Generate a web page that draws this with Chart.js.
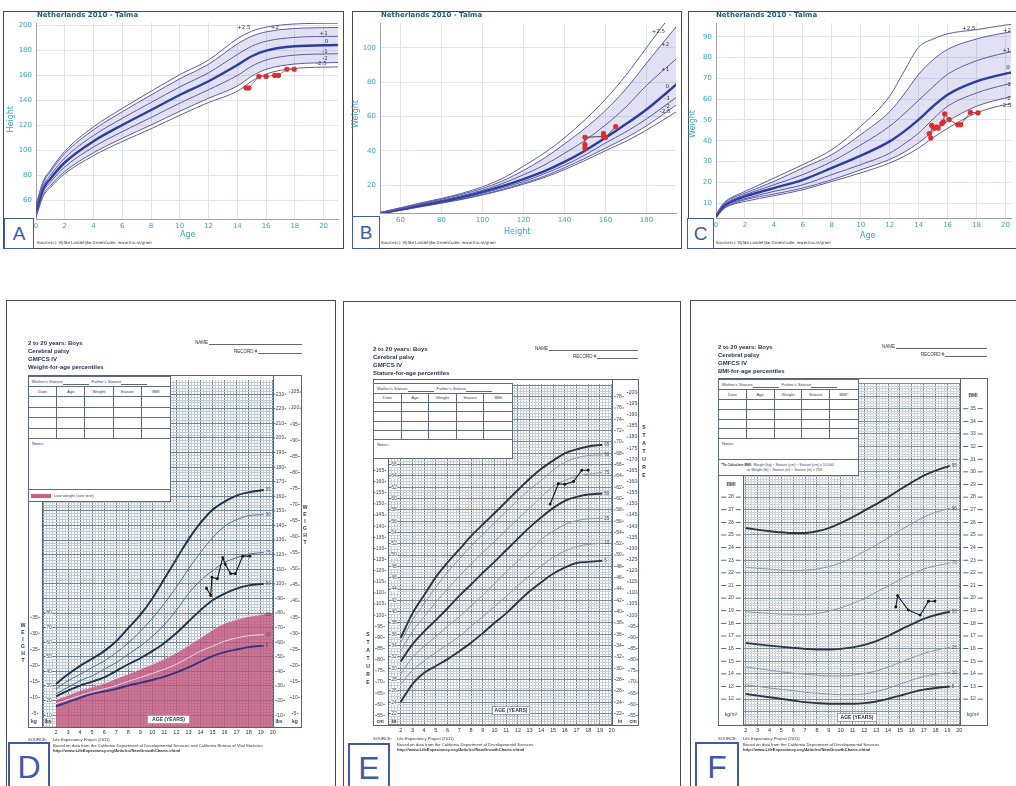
<!DOCTYPE html>
<html>
<head>
<meta charset="utf-8">
<title>Growth charts</title>
<script src="https://cdn.jsdelivr.net/npm/chart.js@4.4.1/dist/chart.umd.min.js"></script>
<style>
  html, body { margin: 0; padding: 0; background: #fff; }
  body { position: relative; width: 1016px; height: 786px; overflow: hidden; font-family: "Liberation Sans", Arial, sans-serif; }
  canvas { position: absolute; }
  .pane { position: absolute; border: 1px solid #4a4a4a; box-sizing: border-box; }
  .letter { position: absolute; box-sizing: border-box; border: 2px solid #3e5aa8; background: #fff; color: #3e5aa8;
            display: flex; align-items: center; justify-content: center; font-family: "Liberation Sans", Arial, sans-serif; }
  .ttl { position: absolute; font: bold 7px "DejaVu Sans"; color: #1b5d7c; white-space: nowrap; }
  .src { position: absolute; font: 4px "DejaVu Sans"; color: #334; white-space: nowrap; }
  .axt { position: absolute; font: 8px "DejaVu Sans"; color: #3ba3c0; }
  .vt { writing-mode: vertical-rl; transform: rotate(180deg); }
  .hd { position: absolute; font: bold 6px/8px "Liberation Sans"; color: #1f2a50; white-space: nowrap; }
  .nm { position: absolute; display: flex; align-items: flex-end; font: 4.5px "Liberation Sans"; color: #333; }
  .nm span { flex: 1; height: 4px; border-bottom: 1px solid #666; margin-left: 1px; }
  .frame { position: absolute; border: 1px solid #56637a; box-sizing: border-box; }
  .vl { position: absolute; width: 1px; background: #56637a; }
  .agebox { position: absolute; background: #fff; font: bold 5px "Liberation Sans"; color: #2a3246; text-align: center;
            border: 1px solid #9aa3b2; box-sizing: border-box; }
  .stk { position: absolute; font: bold 5px "Liberation Sans"; color: #2a3246; text-align: center; width: 8px; }
  .note { position: absolute; font: 4.2px "Liberation Sans"; color: #333; white-space: nowrap; }
  .note b { font-weight: bold; }
  .sheet { position: absolute; background: #fff; border: 1px solid #5d6b80; box-sizing: border-box; display: flex;
           flex-direction: column; font: 4.2px "Liberation Sans"; color: #3a4356; }
  .sheet .ms { height: 9px; padding-left: 3px; border-bottom: 1px solid #5d6b80; display: flex; align-items: center; flex: none; }
  .sheet .ms i { display: inline-block; width: 26px; height: 5px; border-bottom: 1px solid #666; margin-right: 3px; }
  .sheet .grid { display: grid; grid-template-columns: repeat(5, 1fr); flex: none; }
  .sheet .grid div { border-right: 1px solid #5d6b80; border-bottom: 1px solid #5d6b80; text-align: center; }
  .sheet .grid div:nth-child(5n) { border-right: none; }
  .sheet .notes { flex: 1; padding: 2px 3px; }
  .sheet .foot { flex: none; border-top: 1px solid #5d6b80; display: flex; align-items: center; padding-left: 2px; }
</style>
</head>
<body>
<canvas id="cA" width="339" height="235" style="left:4px;top:12px"></canvas>
<canvas id="cB" width="328" height="235" style="left:353px;top:12px"></canvas>
<canvas id="cC" width="327" height="235" style="left:689px;top:12px"></canvas>
<canvas id="cD" width="274" height="365" style="left:28px;top:375px"></canvas>
<canvas id="cE" width="266" height="361" style="left:373px;top:379px"></canvas>
<canvas id="cF" width="270" height="362" style="left:718px;top:378px"></canvas>

<div class="pane" style="left:3px;top:11px;width:341px;height:238px"></div>
<div class="pane" style="left:352px;top:11px;width:330px;height:238px"></div>
<div class="pane" style="left:688px;top:11px;width:332px;height:238px"></div>
<div class="pane" style="left:6px;top:300px;width:330px;height:500px"></div>
<div class="pane" style="left:343px;top:301px;width:338px;height:500px"></div>
<div class="pane" style="left:690px;top:300px;width:340px;height:500px"></div>

<!-- A -->
<div class="ttl" style="left:37px;top:11px">Netherlands 2010 - Talma</div>
<div class="src" style="left:37px;top:240px">Source(s): Vijfde Landelijke Groeistudie, www.tno.nl/groei</div>
<div class="axt" style="left:180px;top:230px">Age</div>
<div class="axt vt" style="left:6px;top:106px">Height</div>
<div class="letter" style="left:4px;top:218px;width:30px;height:31px;font-size:19px;border-width:1.5px">A</div>
<!-- B -->
<div class="ttl" style="left:381px;top:11px">Netherlands 2010 - Talma</div>
<div class="src" style="left:381px;top:240px">Source(s): Vijfde Landelijke Groeistudie, www.tno.nl/groei</div>
<div class="axt" style="left:504px;top:227px">Height</div>
<div class="axt vt" style="left:351px;top:100px">Weight</div>
<div class="letter" style="left:352px;top:216px;width:28px;height:33px;font-size:19px;border-width:1.5px">B</div>
<!-- C -->
<div class="ttl" style="left:716px;top:11px">Netherlands 2010 - Talma</div>
<div class="src" style="left:716px;top:240px">Source(s): Vijfde Landelijke Groeistudie, www.tno.nl/groei</div>
<div class="axt" style="left:860px;top:231px">Age</div>
<div class="axt vt" style="left:688px;top:110px">Weight</div>
<div class="letter" style="left:687px;top:218px;width:27px;height:31px;font-size:19px;border-width:1.5px">C</div>

<!-- D -->
<div class="hd" style="left:28px;top:339px">2 to 20 years: Boys<br>Cerebral palsy<br>GMFCS IV<br>Weight-for-age percentiles</div>
<div class="nm" style="left:195px;top:340px;width:107px">NAME<span></span></div>
<div class="nm" style="left:234px;top:349px;width:68px">RECORD #<span></span></div>
<div class="frame" style="left:28px;top:375px;width:274px;height:353px"></div>
<div class="vl" style="left:42px;top:501px;height:226px"></div>
<div class="vl" style="left:273px;top:375px;height:352px"></div>
<div class="agebox" style="left:147px;top:715px;width:43px;height:9px;line-height:7px">AGE (YEARS)</div>
<div class="stk" style="left:19px;top:622px;line-height:7px">W<br>E<br>I<br>G<br>H<br>T</div>
<div class="stk" style="left:301px;top:504px;line-height:7px">W<br>E<br>I<br>G<br>H<br>T</div>
<div class="note" style="left:28px;top:737px">SOURCE:</div>
<div class="note" style="left:53px;top:737px">Life Expectancy Project (2011)</div>
<div class="note" style="left:53px;top:743px">Based on data from the California Department of Developmental Services and California Bureau of Vital Statistics</div>
<div class="note" style="left:53px;top:748px"><b>http://www.LifeExpectancy.org/Articles/NewGrowthCharts.shtml</b></div>
<div class="letter" style="left:8px;top:742px;width:42px;height:50px;font-size:32px">D</div>

<!-- E -->
<div class="hd" style="left:373px;top:345px">2 to 20 years: Boys<br>Cerebral palsy<br>GMFCS IV<br>Stature-for-age percentiles</div>
<div class="nm" style="left:535px;top:346px;width:103px">NAME<span></span></div>
<div class="nm" style="left:573px;top:354px;width:65px">RECORD #<span></span></div>
<div class="frame" style="left:373px;top:379px;width:266px;height:347px"></div>
<div class="vl" style="left:388px;top:458px;height:267px"></div>
<div class="vl" style="left:612px;top:379px;height:346px"></div>
<div class="agebox" style="left:492px;top:706px;width:38px;height:9px;line-height:7px">AGE (YEARS)</div>
<div class="stk" style="left:364px;top:630px;line-height:8px">S<br>T<br>A<br>T<br>U<br>R<br>E</div>
<div class="stk" style="left:640px;top:423px;line-height:8px">S<br>T<br>A<br>T<br>U<br>R<br>E</div>
<div class="note" style="left:373px;top:736px">SOURCE:</div>
<div class="note" style="left:397px;top:736px">Life Expectancy Project (2011)</div>
<div class="note" style="left:397px;top:742px">Based on data from the California Department of Developmental Services</div>
<div class="note" style="left:397px;top:747px"><b>http://www.LifeExpectancy.org/Articles/NewGrowthCharts.shtml</b></div>
<div class="letter" style="left:348px;top:743px;width:42px;height:50px;font-size:32px">E</div>

<!-- F -->
<div class="hd" style="left:718px;top:343px">2 to 20 years: Boys<br>Cerebral palsy<br>GMFCS IV<br>BMI-for-age percentiles</div>
<div class="nm" style="left:882px;top:344px;width:105px">NAME<span></span></div>
<div class="nm" style="left:921px;top:352px;width:66px">RECORD #<span></span></div>
<div class="frame" style="left:718px;top:378px;width:270px;height:348px"></div>
<div class="vl" style="left:743px;top:475px;height:250px"></div>
<div class="vl" style="left:960px;top:378px;height:347px"></div>
<div class="agebox" style="left:837px;top:713px;width:40px;height:9px;line-height:7px">AGE (YEARS)</div>
<div class="note" style="left:718px;top:736px">SOURCE:</div>
<div class="note" style="left:743px;top:736px">Life Expectancy Project (2011)</div>
<div class="note" style="left:743px;top:742px">Based on data from the California Department of Developmental Services</div>
<div class="note" style="left:743px;top:747px"><b>http://www.LifeExpectancy.org/Articles/NewGrowthCharts.shtml</b></div>
<div class="letter" style="left:695px;top:742px;width:44px;height:50px;font-size:32px">F</div>

<script>
// ---------- A: height for age (TNO 2010), SD lines +2.5 .. -2.5 ----------
var aAge = [0, 0.5, 1, 2, 4, 6, 8, 10, 12, 14, 15, 16, 18, 21];
var aP25 = [56, 75, 84, 99, 118.5, 133.3, 147, 160.3, 172, 189, 195, 198.3, 200.8, 201.5];
var aP20 = [55, 73.8, 82.6, 97.2, 116.2, 130.6, 144, 157, 168.6, 184.8, 191, 194.5, 197.2, 198];
var aP10 = [53, 71.4, 79.8, 93.6, 111.6, 125.3, 138, 150.5, 161.8, 176.4, 183, 187, 190.1, 191];
var aMed = [51, 69, 77, 90, 107, 120, 132, 144, 155, 168, 175, 179.5, 183, 184];
var aM10 = [49, 66.6, 74.2, 86.4, 102.4, 114.7, 126, 137.5, 148.2, 159.6, 167, 172, 175.9, 177];
var aM20 = [47, 64.2, 71.4, 82.8, 97.8, 109.4, 120, 131, 141.4, 151.2, 159, 164.5, 168.8, 170];
var aM25 = [46, 63, 70, 81, 95.5, 106.8, 117, 127.8, 138, 147, 155, 160.8, 165.3, 166.5];
var aKidAge = [14.6, 14.8, 15.5, 16.0, 16.6, 16.85, 17.45, 17.95];
var aKidCm = [149.6, 149.6, 158.8, 158.8, 159.7, 159.7, 164.6, 164.6];
var aAgeTicks = [0, 2, 4, 6, 8, 10, 12, 14, 16, 18, 20];
var aCmTicks = [60, 80, 100, 120, 140, 160, 180, 200];

// ---------- B: weight for height ----------
var bCm = [50, 60, 70, 80, 90, 100, 110, 120, 130, 140, 150, 160, 170, 180, 195];
var bP25 = [4.0, 6.8, 9.6, 12.2, 15.2, 19, 24, 31, 38.5, 47.5, 58, 70, 84, 100, 124];
var bP20 = [3.9, 6.5, 9.2, 11.7, 14.6, 18, 22.5, 28.5, 35.5, 44, 53, 63.5, 76, 91, 113];
var bP10 = [3.7, 6.2, 8.7, 11.1, 13.8, 17, 21, 26, 31.5, 38.5, 46, 55, 65.5, 78, 94];
var bMed = [3.5, 5.8, 8.2, 10.5, 13, 16, 19.5, 23.5, 28, 33.5, 40, 47.5, 55.5, 64, 79];
var bM10 = [3.4, 5.5, 7.8, 10, 12.4, 15.2, 18.5, 22, 26.5, 31.5, 37.5, 44.5, 51, 58.5, 71.5];
var bM20 = [3.3, 5.3, 7.5, 9.6, 11.9, 14.5, 17.5, 21, 25, 30, 35.5, 41.5, 47.5, 54.5, 67];
var bM25 = [3.2, 5.2, 7.3, 9.4, 11.6, 14.2, 17.1, 20.5, 24.3, 29, 34.3, 40, 45.5, 52, 63];
var bKidCm = [150, 150, 150, 159, 159, 160, 165];
var bKidKg = [41.5, 43.5, 47.8, 48.3, 50, 47.8, 54];
var bCmTicks = [60, 80, 100, 120, 140, 160, 180];
var bKgTicks = [20, 40, 60, 80, 100];

// ---------- C: weight for age ----------
var cAge = [0, 0.5, 1, 2, 4, 6, 8, 10, 12, 13, 14, 15, 16, 18, 20, 21];
var cP25 = [4.5, 9.8, 12.4, 15.6, 22, 28.5, 35.7, 47, 61.5, 73.5, 85, 89, 91.5, 93.5, 95.7, 96.5];
var cP20 = [4.3, 9.4, 11.9, 14.8, 20.4, 26.9, 33.3, 43, 54, 62.5, 72, 79, 84, 89, 92, 93];
var cP10 = [3.9, 8.9, 11.2, 14, 18.8, 23.7, 30, 38, 47, 53, 59.5, 66, 72, 78.5, 82.3, 83.5];
var cMed = [3.6, 8.3, 10.5, 13.2, 17.2, 21.2, 26.9, 32.8, 39.7, 44.5, 50.2, 56.6, 62.2, 68.6, 72.3, 73.5];
var cM10 = [3.3, 7.8, 9.8, 12.1, 15.6, 18.8, 23.7, 28.5, 34, 38.5, 43.7, 50.5, 56.6, 63, 67, 68.5];
var cM20 = [3.0, 7.3, 9.2, 11.6, 14.3, 17.2, 21.2, 26, 31, 34.5, 39, 44.5, 49.4, 56.6, 60.6, 62];
var cM25 = [2.9, 7, 8.9, 10.8, 13.5, 16.4, 20.4, 24.5, 29.3, 32.5, 36.5, 41.5, 46, 53.4, 57.4, 58.5];
var cKidAge = [14.73, 14.84, 14.9, 15.1, 15.25, 15.35, 15.6, 15.7, 15.8, 16.1, 16.7, 16.9, 17.57, 18.1];
var cKidKg = [43.4, 41.3, 47.4, 46.1, 46.6, 46.1, 48.2, 49, 52.9, 50.2, 47.7, 47.7, 53.7, 53.4];
var cAgeTicks = [0, 2, 4, 6, 8, 10, 12, 14, 16, 18, 20];
var cKgTicks = [10, 20, 30, 40, 50, 60, 70, 80, 90];

// ---------- D: CP weight for age (lbs) ----------
var dAge = [2, 3, 4, 5, 6, 7, 8, 9, 10, 11, 12, 13, 14, 15, 16, 17, 18, 19.25];
var dP95 = [31.4, 38, 43.8, 48.7, 53.9, 60.7, 69.7, 78.7, 90, 103.5, 117, 130.5, 141.8, 150.8, 156.4, 160.5, 162.7, 164.3];
var dP90 = [28, 33.6, 38, 42.6, 47.2, 52.8, 59.5, 67.4, 76.4, 86.6, 97.8, 110.2, 121.5, 131.6, 139.5, 144, 146.7, 147.4];
var dP75 = [24.6, 29.1, 33.6, 37, 41.5, 46, 51.7, 57.3, 64, 72, 82, 93.3, 102.3, 109, 114.7, 118, 120.4, 121.5];
var dP50 = [22.8, 26.9, 30.3, 33, 35.9, 40.4, 44.9, 49, 53.9, 59.5, 66.3, 74.2, 82, 88.8, 93.3, 96.7, 99, 100];
var dP25 = [20.6, 23.5, 26.9, 29.1, 31.8, 35.2, 38.2, 41.5, 44.9, 48.3, 52.8, 57.7, 62.9, 68.6, 73, 75.3, 77.6, 79.1];
var dP10 = [17.9, 20.6, 23.5, 25.8, 28, 30.3, 33.2, 35.9, 38.6, 41.5, 44.9, 49.4, 53.9, 57.3, 60.7, 62.9, 64.5, 65.2];
var dP5 = [16.1, 19, 21.9, 24.6, 26.2, 28, 30.3, 32.1, 34.1, 36.4, 39.3, 42.7, 46.7, 50.5, 53.2, 55, 56.6, 57.7];
var dLowAge = [2, 4, 6, 8, 10, 12, 14, 16, 18, 20];
var dLowLbs = [20.6, 26.9, 31.8, 38.2, 44.9, 52.8, 62.9, 73, 77.6, 80];
var dKidAge = [14.5, 14.85, 14.95, 15.4, 15.85, 16.05, 16.5, 16.9, 17.5, 18.1];
var dKidLbs = [97, 92, 104.5, 103.5, 118, 113.5, 107, 107, 119, 119];
var dLbsRight = [10, 20, 30, 40, 50, 60, 70, 80, 90, 100, 110, 120, 130, 140, 150, 160, 170, 180, 190, 200, 210, 220, 230];
var dKgRight = [5, 10, 15, 20, 25, 30, 35, 40, 45, 50, 55, 60, 65, 70, 75, 80, 85, 90, 95, 100, 105];
var dLbsLeft = [10, 20, 30, 40, 50, 60, 70, 80];
var dKgLeft = [5, 10, 15, 20, 25, 30, 35];

// ---------- E: CP stature for age (inches) ----------
var eAge = [2, 3, 4, 5, 6, 7, 8, 9, 10, 11, 12, 13, 14, 15, 16, 17, 18, 19.2];
var eP95 = [35.35, 39.7, 42.9, 46.1, 48.7, 51, 53.35, 55.4, 57.4, 59.45, 61.5, 63.5, 65.25, 66.7, 68, 68.7, 69.2, 69.5];
var eP90 = [34.5, 38.5, 41.4, 44.35, 47, 49.3, 51.6, 53.6, 55.7, 57.7, 59.7, 61.6, 63.2, 65, 66.4, 67.2, 67.6, 67.7];
var eP75 = [33, 36.5, 39.1, 41.7, 44, 46.3, 48.4, 50.45, 52.4, 54.4, 56.4, 58.3, 60.3, 62.1, 63.2, 63.9, 64.3, 64.6];
var eP50 = [31.2, 34.2, 36.5, 38.5, 40.6, 42.8, 44.8, 46.85, 48.8, 50.85, 52.9, 54.9, 56.7, 58.3, 59.6, 60.3, 60.7, 60.9];
var eP25 = [29, 31.9, 33.9, 35.6, 37.4, 39.1, 41, 42.9, 44.9, 47, 49, 50.7, 52.8, 54.2, 55.4, 56.1, 56.4, 56.5];
var eP10 = [27.2, 29.6, 31.3, 32.8, 34.2, 35.6, 37.4, 39.1, 40.9, 42.7, 44.6, 46.4, 48.1, 49.6, 50.7, 51.5, 51.9, 52.1];
var eP5 = [24, 27.2, 29.2, 30.4, 31.6, 33, 34.5, 36.2, 38, 39.7, 41.7, 43.6, 45.2, 46.7, 47.8, 48.6, 48.8, 49];
var eKidAge = [14.75, 15.45, 16.0, 16.75, 17.45, 18.0];
var eKidIn = [59, 62.6, 62.5, 63, 65, 65];
var eInRight = [22, 24, 26, 28, 30, 32, 34, 36, 38, 40, 42, 44, 46, 48, 50, 52, 54, 56, 58, 60, 62, 64, 66, 68, 70, 72, 74, 76, 78];
var eCmRight = [55, 60, 65, 70, 75, 80, 85, 90, 95, 100, 105, 110, 115, 120, 125, 130, 135, 140, 145, 150, 155, 160, 165, 170, 175, 180, 185, 190, 195, 200];
var eInLeft = [22, 24, 26, 28, 30, 32, 34, 36, 38, 40, 42, 44, 46, 48, 50, 52, 54, 56, 58, 60, 62, 64, 66];
var eCmLeft = [55, 60, 65, 70, 75, 80, 85, 90, 95, 100, 105, 110, 115, 120, 125, 130, 135, 140, 145, 150, 155, 160, 165];

// ---------- F: CP BMI for age ----------
var fAge = [2, 4, 6, 7, 8, 9, 10, 11, 12, 13, 14, 15, 16, 17, 18, 19.2];
var fP95 = [25.55, 25.3, 25.16, 25.16, 25.3, 25.55, 25.94, 26.41, 26.93, 27.45, 28.0, 28.6, 29.17, 29.7, 30.1, 30.47];
var fP90 = [22.43, 22.3, 22.17, 22.22, 22.3, 22.5, 22.8, 23.2, 23.7, 24.2, 24.77, 25.37, 25.9, 26.41, 26.8, 27.1];
var fP75 = [18.92, 18.79, 18.71, 18.71, 18.79, 18.97, 19.23, 19.57, 19.96, 20.48, 20.95, 21.47, 21.9, 22.3, 22.56, 22.77];
var fP50 = [16.45, 16.24, 16.06, 15.98, 15.93, 15.93, 15.98, 16.1, 16.3, 16.6, 17.0, 17.49, 17.93, 18.35, 18.66, 18.92];
var fP25 = [14.55, 14.29, 14.05, 13.97, 13.9, 13.84, 13.84, 13.9, 14.03, 14.23, 14.55, 14.89, 15.28, 15.61, 15.87, 16.1];
var fP10 = [13.14, 12.88, 12.67, 12.54, 12.47, 12.41, 12.36, 12.36, 12.41, 12.6, 12.85, 13.19, 13.5, 13.79, 13.97, 14.1];
var fP5 = [12.41, 12.15, 11.89, 11.76, 11.68, 11.63, 11.63, 11.63, 11.68, 11.81, 12.02, 12.28, 12.54, 12.75, 12.88, 13.0];
var fKidAge = [14.65, 14.8, 15.7, 16.7, 17.4, 17.95];
var fKidBmi = [19.3, 20.2, 19.05, 18.65, 19.75, 19.75];
var fBmiRight = [12, 13, 14, 15, 16, 17, 18, 19, 20, 21, 22, 23, 24, 25, 26, 27, 28, 29, 30, 31, 32, 33, 34, 35];
var fBmiLeft = [12, 13, 14, 15, 16, 17, 18, 19, 20, 21, 22, 23, 24, 25, 26, 27, 28];

var cdcAgeTicks = [2, 3, 4, 5, 6, 7, 8, 9, 10, 11, 12, 13, 14, 15, 16, 17, 18, 19, 20];
var LB_PER_KG = 2.20462;
var IN_PER_CM = 1 / 2.54;

function xy(xs, ys) {
  return xs.map(function (x, i) { return { x: x, y: ys[i] }; });
}

// small text labels placed at data coordinates, or at the end of tagged curves
var tagsPlugin = {
  id: 'tags',
  afterDatasetsDraw: function (chart, args, o) {
    var ctx = chart.ctx, sx = chart.scales.x, sy = chart.scales.y;
    ctx.save();
    ctx.font = o.font;
    ctx.fillStyle = o.color;
    ctx.textBaseline = 'middle';
    ctx.textAlign = 'center';
    (o.items || []).forEach(function (it) {
      ctx.fillText(it.t, sx.getPixelForValue(it.x), sy.getPixelForValue(it.y));
    });
    if (o.ends) {
      ctx.textAlign = 'left';
      chart.data.datasets.forEach(function (ds) {
        if (!ds.tag) return;
        var p = ds.data[ds.data.length - 1];
        ctx.fillText(ds.tag, sx.getPixelForValue(p.x) + 2, sy.getPixelForValue(p.y));
      });
    }
    ctx.restore();
  }
};

// unit columns at the sides of the paper charts (kg / lbs / cm / in / BMI)
var sidePlugin = {
  id: 'side',
  afterDraw: function (chart, args, o) {
    if (!o.cols) return;
    var ctx = chart.ctx, sy = chart.scales.y;
    ctx.save();
    ctx.textAlign = 'center';
    ctx.textBaseline = 'middle';
    o.cols.forEach(function (col) {
      ctx.font = o.font;
      col.values.forEach(function (v) {
        var y = sy.getPixelForValue(v * col.k);
        var w = ctx.measureText(String(v)).width;
        if (col.bg) {
          ctx.fillStyle = '#fff';
          ctx.fillRect(col.x - w / 2 - 1, y - 2.5, w + 2, 5);
        }
        ctx.fillStyle = o.color;
        ctx.fillText(String(v), col.x, y);
        if (col.dash) {
          ctx.fillRect(col.x - w / 2 - col.gap - col.dash, y - 0.4, col.dash, 0.8);
          ctx.fillRect(col.x + w / 2 + col.gap, y - 0.4, col.dash, 0.8);
        }
      });
    });
    (o.texts || []).forEach(function (t) {
      ctx.font = t.bold ? 'bold ' + o.font : o.font;
      ctx.fillStyle = o.color;
      var y = t.v !== undefined ? sy.getPixelForValue(t.v) : t.py;
      ctx.fillText(t.t, t.x, y);
    });
    ctx.restore();
  }
};

Chart.register(tagsPlugin, sidePlugin);
Chart.defaults.font.family = 'Liberation Sans';

function tnoChart(id, o) {
  var sets = o.lines.map(function (ys, i) {
    return {
      data: xy(o.xs, ys),
      borderColor: i === 3 ? '#2b3ea0' : '#5b5ba6',
      borderWidth: i === 3 ? 2.4 : 1,
      pointRadius: 0,
      cubicInterpolationMode: 'monotone',
      fill: i === 1 ? 5 : false,
      backgroundColor: 'rgba(118,118,200,0.22)'
    };
  });
  sets.push({
    data: xy(o.kidX, o.kidY),
    order: -1,
    borderColor: o.kidLine,
    borderWidth: 1,
    tension: 0,
    fill: false,
    pointRadius: 2.4,
    pointStyle: 'rectRounded',
    pointBackgroundColor: '#e22a2a',
    pointBorderColor: '#e22a2a'
  });
  function tickStyle(pad) {
    return { color: '#3ba3c0', font: { family: 'DejaVu Sans', size: 7 }, padding: pad, autoSkip: false, maxRotation: 0 };
  }
  return new Chart(document.getElementById(id), {
    type: 'line',
    data: { datasets: sets },
    options: {
      responsive: false,
      animation: false,
      devicePixelRatio: 1,
      layout: { padding: { top: 11, left: 0, right: 0, bottom: 0 } },
      plugins: {
        legend: { display: false },
        tooltip: { enabled: false },
        filler: { drawTime: 'beforeDatasetsDraw' },
        tags: { font: '5.5px "DejaVu Sans"', color: '#333', items: o.tags }
      },
      scales: {
        x: {
          type: 'linear', min: o.xmin, max: o.xmax,
          afterBuildTicks: function (s) { s.ticks = o.xt.map(function (v) { return { value: v }; }); },
          afterFit: function (s) { s.height = o.xh; },
          grid: { color: '#e3e3eb', drawTicks: false },
          border: { color: '#a0a0aa' },
          ticks: tickStyle(3)
        },
        y: {
          type: 'linear', min: o.ymin, max: o.ymax,
          afterBuildTicks: function (s) { s.ticks = o.yt.map(function (v) { return { value: v }; }); },
          afterFit: function (s) { s.width = o.yw; },
          grid: { color: '#e3e3eb', drawTicks: false },
          border: { color: '#a0a0aa' },
          ticks: tickStyle(4)
        }
      }
    }
  });
}

function cdcChart(id, o) {
  var sets = o.curves.map(function (c) {
    return {
      data: xy(o.ages, c.ys),
      tag: c.tag,
      borderColor: c.color || (c.heavy ? o.heavy : o.light),
      borderWidth: c.heavy ? 1.9 : 1,
      borderDash: c.dash || [],
      pointRadius: 0,
      cubicInterpolationMode: 'monotone',
      fill: false
    };
  });
  if (o.extra) sets = sets.concat(o.extra);
  sets.push({
    data: xy(o.kidX, o.kidY),
    order: -1,
    borderColor: '#151515',
    borderWidth: 1.1,
    tension: 0,
    fill: false,
    pointRadius: 0.9,
    pointBackgroundColor: '#151515',
    pointBorderColor: '#151515'
  });
  function major(v, m) { return Math.abs(v / m - Math.round(v / m)) < 1e-6; }
  return new Chart(document.getElementById(id), {
    type: 'line',
    data: { datasets: sets },
    options: {
      responsive: false,
      animation: false,
      devicePixelRatio: 1,
      layout: { padding: { left: o.pl, right: o.pr, top: 0, bottom: 0 } },
      plugins: {
        legend: { display: false },
        tooltip: { enabled: false },
        filler: { drawTime: 'beforeDatasetsDraw' },
        tags: { font: '4.5px "Liberation Sans"', color: '#4a5260', ends: true },
        side: { font: '5px "Liberation Sans"', color: '#3a4252', cols: o.cols, texts: o.texts }
      },
      scales: {
        x: {
          type: 'linear', min: o.xmin, max: o.xmax,
          afterFit: function (s) { s.height = o.xh; },
          ticks: {
            stepSize: 0.25, includeBounds: false, autoSkip: false, maxRotation: 0, padding: 2,
            color: '#333', font: { size: 5.5 },
            callback: function (v) { return cdcAgeTicks.indexOf(v) >= 0 ? String(v) : ''; }
          },
          grid: { drawTicks: false, color: function (c) { return major(c.tick.value, 1) ? o.gMajor : o.gMinor; } },
          border: { display: false }
        },
        y: {
          type: 'linear', min: o.ymin, max: o.ymax,
          ticks: { display: false, stepSize: o.ystep, includeBounds: false },
          grid: { drawTicks: false, color: function (c) { return major(c.tick.value, o.ymajor) ? o.gMajor : o.gMinor; } },
          border: { display: false }
        }
      }
    }
  });
}

tnoChart('cA', {
  xs: aAge, lines: [aP25, aP20, aP10, aMed, aM10, aM20, aM25],
  kidX: aKidAge, kidY: aKidCm, kidLine: '#8a8a8a',
  xmin: 0, xmax: 21, ymin: 44.8, ymax: 201.6, xt: aAgeTicks, yt: aCmTicks, xh: 28, yw: 32,
  tags: [
    { t: '+2.5', x: 14.45, y: 197.6 }, { t: '+2', x: 16.6, y: 197.6 }, { t: '+1', x: 20, y: 192.8 },
    { t: '0', x: 20.2, y: 186.4 }, { t: '-1', x: 20.1, y: 178.4 }, { t: '-2', x: 20.1, y: 172.8 },
    { t: '-2.5', x: 19.85, y: 168.8 }
  ]
});

tnoChart('cB', {
  xs: bCm, lines: [bP25, bP20, bP10, bMed, bM10, bM20, bM25],
  kidX: bKidCm, kidY: bKidKg, kidLine: '#444',
  xmin: 50, xmax: 194.4, ymin: 3.7, ymax: 114.4, xt: bCmTicks, yt: bKgTicks, xh: 34, yw: 27,
  tags: [
    { t: '+2.5', x: 185.8, y: 109.5 }, { t: '+2', x: 189.1, y: 101.6 }, { t: '+1', x: 189.1, y: 87 },
    { t: '0', x: 190.1, y: 77.1 }, { t: '-1', x: 190.1, y: 70.2 }, { t: '-2', x: 190.1, y: 65.5 },
    { t: '-2.5', x: 189.1, y: 62.6 }
  ]
});

tnoChart('cC', {
  xs: cAge, lines: [cP25, cP20, cP10, cMed, cM10, cM20, cM25],
  kidX: cKidAge, kidY: cKidKg, kidLine: '#555',
  xmin: 0, xmax: 20.38, ymin: 2.8, ymax: 96.7, xt: cAgeTicks, yt: cKgTicks, xh: 29, yw: 27,
  tags: [
    { t: '+2.5', x: 17.46, y: 94 }, { t: '+2', x: 20.1, y: 93 }, { t: '+1', x: 20.05, y: 83.4 },
    { t: '0', x: 20.18, y: 75.2 }, { t: '-1', x: 20.18, y: 67 }, { t: '-2', x: 20.18, y: 60.3 },
    { t: '-2.5', x: 20.05, y: 56.9 }
  ]
});

cdcChart('cD', {
  ages: dAge,
  curves: [
    { ys: dP95, tag: '95', heavy: true }, { ys: dP90, tag: '90' }, { ys: dP75, tag: '75' },
    { ys: dP50, tag: '50', heavy: true }, { ys: dP25, tag: '25', color: '#f4eef3', dash: [1.5, 1.5] },
    { ys: dP10, tag: '10', color: '#e6d6e6' }, { ys: dP5, tag: '5', heavy: true, color: '#33357f' }
  ],
  extra: [{
    data: xy(dLowAge, dLowLbs), order: 10, fill: 'start', backgroundColor: 'rgba(194,82,120,0.78)',
    borderWidth: 0, pointRadius: 0, cubicInterpolationMode: 'monotone'
  }],
  kidX: dKidAge, kidY: dKidLbs,
  heavy: '#1d3350', light: '#4d7090', gMinor: '#bfcad8', gMajor: '#6f819c',
  xmin: 0.837, xmax: 20.02, ymin: 1.89, ymax: 239.66, ystep: 2, ymajor: 10,
  pl: 14, pr: 29, xh: 13,
  cols: [
    { x: 252, values: dLbsRight, k: 1, dash: 1.5, gap: 0.5 },
    { x: 267, values: dKgRight, k: LB_PER_KG, dash: 1.5, gap: 0.5 },
    { x: 7, values: dKgLeft, k: LB_PER_KG, dash: 1.5, gap: 0.5 },
    { x: 21, values: dLbsLeft, k: 1, bg: true, dash: 1.5, gap: 0.5 }
  ],
  texts: [
    { t: 'kg', x: 6, py: 347, bold: true }, { t: 'lbs', x: 20, py: 347, bold: true },
    { t: 'lbs', x: 251, py: 347, bold: true }, { t: 'kg', x: 267, py: 347, bold: true }
  ]
});

cdcChart('cE', {
  ages: eAge,
  curves: [
    { ys: eP95, tag: '95', heavy: true }, { ys: eP90, tag: '90' }, { ys: eP75, tag: '75' },
    { ys: eP50, tag: '50', heavy: true }, { ys: eP25, tag: '25' }, { ys: eP10, tag: '10' },
    { ys: eP5, tag: '5', heavy: true }
  ],
  kidX: eKidAge, kidY: eKidIn,
  heavy: '#2c3444', light: '#8d96a3', gMinor: '#c8ced7', gMajor: '#7c8694',
  xmin: 0.916, xmax: 20.03, ymin: 19.96, ymax: 80.23, ystep: 0.5, ymajor: 2,
  pl: 15, pr: 27, xh: 15,
  cols: [
    { x: 7, values: eCmLeft, k: IN_PER_CM, dash: 1.5, gap: 0.5 },
    { x: 21, values: eInLeft, k: 1, bg: true, dash: 1.5, gap: 0.5 },
    { x: 246, values: eInRight, k: 1, dash: 1.5, gap: 0.5 },
    { x: 260, values: eCmRight, k: IN_PER_CM, dash: 1.5, gap: 0.5 }
  ],
  texts: [
    { t: 'cm', x: 7, py: 343, bold: true }, { t: 'in', x: 21, py: 343, bold: true },
    { t: 'in', x: 247, py: 343, bold: true }, { t: 'cm', x: 260, py: 343, bold: true }
  ]
});

cdcChart('cF', {
  ages: fAge,
  curves: [
    { ys: fP95, tag: '95', heavy: true }, { ys: fP90, tag: '90' }, { ys: fP75, tag: '75' },
    { ys: fP50, tag: '50', heavy: true }, { ys: fP25, tag: '25' }, { ys: fP10, tag: '10' },
    { ys: fP5, tag: '5', heavy: true }
  ],
  kidX: fKidAge, kidY: fKidBmi,
  heavy: '#2c3444', light: '#8d96a3', gMinor: '#cdd3db', gMajor: '#858f9c',
  xmin: 1.77, xmax: 20.06, ymin: 9.95, ymax: 37.03, ystep: 0.2, ymajor: 1,
  pl: 25, pr: 28, xh: 15,
  cols: [
    { x: 13, values: fBmiLeft, k: 1, dash: 5, gap: 2 },
    { x: 255, values: fBmiRight, k: 1, dash: 5, gap: 2 }
  ],
  texts: [
    { t: 'BMI', x: 13, v: 29, bold: true }, { t: 'BMI', x: 255, v: 36, bold: true },
    { t: 'kg/m\u00b2', x: 13, py: 337 }, { t: 'kg/m\u00b2', x: 255, py: 337 }
  ]
});

// patient record boxes on the paper charts
function recordSheet(x, y, w, h, headH, rowsH, last, foot, footH) {
  var html = '<div class="ms">Mother\'s Stature<i></i>Father\'s Stature<i></i></div>' +
    '<div class="grid" style="height:' + rowsH + 'px;grid-template-rows:' + headH + 'px repeat(4,1fr)">';
  ['Date', 'Age', 'Weight', 'Stature', last].forEach(function (t) {
    html += '<div style="line-height:' + (headH - 1) + 'px">' + t + '</div>';
  });
  for (var i = 0; i < 20; i++) html += '<div></div>';
  html += '</div><div class="notes">Notes:</div>';
  if (foot) html += '<div class="foot" style="height:' + footH + 'px">' + foot + '</div>';
  var d = document.createElement('div');
  d.className = 'sheet';
  d.style.cssText = 'left:' + x + 'px;top:' + y + 'px;width:' + w + 'px;height:' + h + 'px';
  d.innerHTML = html;
  document.body.appendChild(d);
}

recordSheet(28, 376, 143, 126, 10, 52, 'BMI',
  '<span style="display:inline-block;width:20px;height:4px;background:#c9607f;margin-right:3px"></span>Low weight (see text)', 11);
recordSheet(373, 383, 140, 76, 9, 46, 'BMI');
recordSheet(718, 379, 141, 97, 10, 49, 'BMI*',
  '<div style="font-size:3.6px;line-height:5px"><b>*To Calculate BMI:</b> Weight (kg) \u00f7 Stature (cm) \u00f7 Stature (cm) x 10,000<br>' +
  '<span style="padding-left:26px">or Weight (lb) \u00f7 Stature (in) \u00f7 Stature (in) x 703</span></div>', 15);
</script>
</body>
</html>
